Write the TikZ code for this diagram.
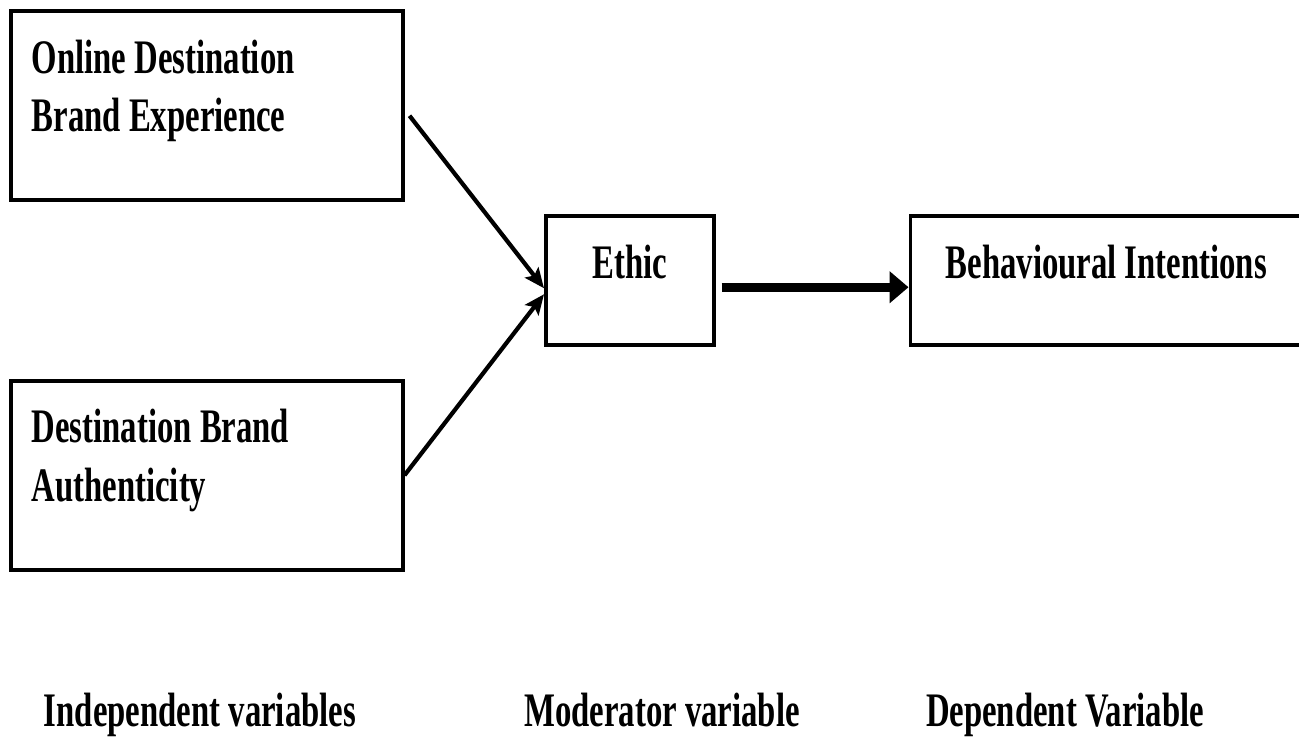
\documentclass[tikz,border=0pt]{standalone}
\usepackage{fontspec}
\setmainfont{Liberation Serif}[FakeStretch=0.68]
\usetikzlibrary{positioning, arrows.meta}
\tikzstyle{varbox} = [rectangle, draw=black, line width=1pt, inner xsep=0.21cm, inner ysep=0pt, text width=3.5cm, align=flush left, text height=0.62cm, text depth=1.27cm]
\tikzstyle{midbox} = [rectangle, draw=black, line width=1pt, inner sep=0pt, align=center, text height=0.63cm, text depth=0.66cm, minimum height=1.29cm]
\tikzstyle{caption} = [anchor=base, inner sep=0pt]
\tikzstyle{arrow} = [line width=1.2pt, -{Stealth[length=0.2cm, width=0.17cm, inset=0.04cm]}]
\tikzstyle{bigarrow} = [line width=2.5pt, -{Triangle[length=0.19cm, width=0.31cm]}]

\begin{document}
\begin{tikzpicture}
[font=\fontsize{13.7}{16.6}\selectfont\bfseries]
\useasboundingbox (0,0) rectangle (12.99,-7.37);

\node (ode) [varbox, anchor=north west] at (0.09,-0.095) {Online Destination\\Brand Experience};
\node (dba) [varbox, below=1.77cm of ode] {Destination Brand\\Authenticity};
\node (ethic) [midbox, minimum width=1.68cm, anchor=north west] at (5.44,-2.14) {Ethic};
\node (behav) [midbox, minimum width=3.92cm, right=1.93cm of ethic] {Behavioural Intentions};

\node (indep) [caption] at (2.0,-7.27) {Independent variables};
\node (moder) [caption] at (6.62,-7.27) {Moderator variable};
\node (dep) [caption] at (10.65,-7.27) {Dependent Variable};

\draw [arrow] ([xshift=0.05cm,yshift=-0.1cm]ode.east) -- ([yshift=-0.08cm]ethic.west);
\draw [arrow] (dba.east) -- ([yshift=-0.14cm]ethic.west);
\draw [bigarrow] ([xshift=0.06cm,yshift=-0.07cm]ethic.east) -- ([yshift=-0.07cm]behav.west);

\end{tikzpicture}
\end{document}
